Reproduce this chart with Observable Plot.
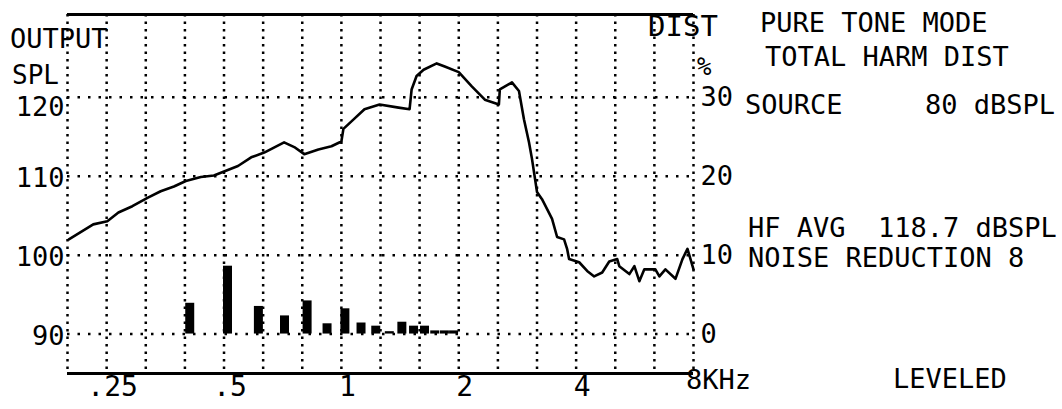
<!DOCTYPE html>
<html><head><meta charset="utf-8">
<script src="https://cdn.jsdelivr.net/npm/d3@7"></script>
<script src="https://cdn.jsdelivr.net/npm/@observablehq/plot@0.6"></script>
<style>
body{margin:0;background:#fff;}
#chart svg{display:block;background:#fff}
</style></head><body><div id="chart"></div>
<script>
// Frequency response (kHz, dB SPL)
const respFreq = [0.2,0.231,0.251,0.268,0.291,0.319,0.344,0.372,0.399,0.436,0.471,0.5,0.543,0.587,0.634,0.713,0.757,0.803,0.873,0.943,1.0,1.012,1.08,1.146,1.253,1.402,1.496,1.514,1.559,1.625,1.756,1.841,2.0,2.16,2.333,2.535,2.549,2.738,2.854,2.94,3.028,3.082,3.175,3.27,3.47,3.575,3.725,3.792,3.837,4.072,4.269,4.45,4.666,4.864,5.099,5.161,5.477,5.642,5.81,5.984,6.387,6.54,6.777,7.192,7.495,7.72,8.0];
const respSpl  = [102.0,103.9,104.3,105.4,106.2,107.3,108.1,108.7,109.4,109.9,110.1,110.6,111.3,112.4,113.0,114.3,113.7,112.8,113.4,113.8,114.4,116.0,117.3,118.5,119.1,118.7,118.5,121.0,122.7,123.5,124.3,123.9,123.2,121.4,119.7,119.1,121.0,121.9,120.8,117.2,114.3,112.2,108.0,107.1,104.6,102.3,102.0,100.8,99.5,99.1,98.0,97.3,97.8,99.2,99.5,98.6,97.6,98.6,96.7,98.2,98.2,97.3,98.2,97.0,99.5,100.8,98.2];
// Total harmonic distortion (kHz, %)
const distFreq = [0.4,0.5,0.6,0.7,0.8,0.9,1.0,1.1,1.2,1.3,1.4,1.5,1.6,1.7,1.8,1.9];
const distPct  = [3.9,8.6,3.5,2.3,4.2,1.3,3.2,1.4,1.0,0.3,1.5,1.0,1.0,0.4,0.4,0.4];
// Grid and ticks
const gridFreq = [0.1984,0.25,0.315,0.3969,0.5,0.63,0.7937,1,1.26,1.587,2,2.52,3.175,4,5.04,6.35,8];
const splGrid = [90,100,110,120];
const splTicksLow = [90,100,110];
const splTicksTop = [120];
const freqTicks = [0.25,0.5,1,2,4];
const freqTickLabels = [".25",".5","1","2","4"];
const distOffset = 90; // 0 % THD sits on the 90 dB line, 1 % per dB

const resp = respFreq.map((f,i)=>({f, spl: respSpl[i]}));
const dist = distFreq.map((f,i)=>({f, spl: distOffset + distPct[i]}));
const freqLabels = freqTicks.map((f,i)=>({f, label: freqTickLabels[i]}));

const FONT = "DejaVu Sans Mono";
const plot = Plot.plot({
  width: 1062, height: 409,
  marginLeft: 67, marginRight: 369, marginTop: 14, marginBottom: 36,
  style: {fontFamily: FONT, fontSize: "27px", color: "#000", background: "#fff"},
  x: {type: "log", domain: [gridFreq[0], 8], axis: null},
  y: {domain: [85, 130.5], axis: null},
  marks: [
    Plot.ruleX(gridFreq, {stroke: "#000", strokeWidth: 2.5, strokeDasharray: "2.5,5"}),
    Plot.ruleY(splGrid, {stroke: "#000", strokeWidth: 2.5, strokeDasharray: "2.5,8"}),
    Plot.ruleY([130.5], {stroke: "#000", strokeWidth: 3}),
    Plot.ruleY([85], {stroke: "#000", strokeWidth: 3}),
    Plot.ruleX(dist, {x: "f", y1: distOffset, y2: "spl", stroke: "#000", strokeWidth: 9, dx: 3.5}),
    Plot.line(resp, {x: "f", y: "spl", stroke: "#000", strokeWidth: 2.6, curve: "linear"}),
    Plot.axisY(splTicksLow, {anchor: "left", tickSize: 0, tickPadding: 3, label: null, fontSize: "27px", dy: 2}),
    Plot.axisY(splTicksTop, {anchor: "left", tickSize: 0, tickPadding: 3, label: null, fontSize: "27px", dy: 10}),
    Plot.axisY(splGrid, {anchor: "right", tickSize: 0, tickPadding: 7, label: null, fontSize: "27px", tickFormat: d => String(d - distOffset)}),
    Plot.text(freqLabels, {x: "f", text: "label", frameAnchor: "bottom", lineAnchor: "top", textAnchor: "middle", dx: 6, dy: 3, fontSize: 28, fill: "#000"})
  ]
});
document.getElementById("chart").appendChild(plot);

const svg = d3.select(plot);
const labels = [
  ["OUTPUT", 10, 48, 27],
  ["SPL", 12, 84, 26],
  ["DIST", 648, 36, 29],
  ["%", 697, 75, 24],
  ["PURE TONE MODE", 760, 32, 27],
  ["TOTAL HARM DIST", 765, 66, 27],
  ["SOURCE", 745, 114, 27],
  ["80 dBSPL", 925, 114, 27],
  ["HF AVG  118.7 dBSPL", 748, 237, 27],
  ["NOISE REDUCTION 8", 748, 267, 27],
  ["LEVELED", 893, 388, 27],
  ["8KHz", 686, 389, 27]
];
svg.append("g").attr("text-anchor", "start").selectAll("text").data(labels).join("text")
  .attr("x", d => d[1]).attr("y", d => d[2])
  .attr("text-anchor", "start")
  .attr("font-family", FONT).attr("font-size", d => d[3])
  .attr("fill", "#000").attr("xml:space", "preserve")
  .style("white-space", "pre")
  .text(d => d[0]);
</script></body></html>
